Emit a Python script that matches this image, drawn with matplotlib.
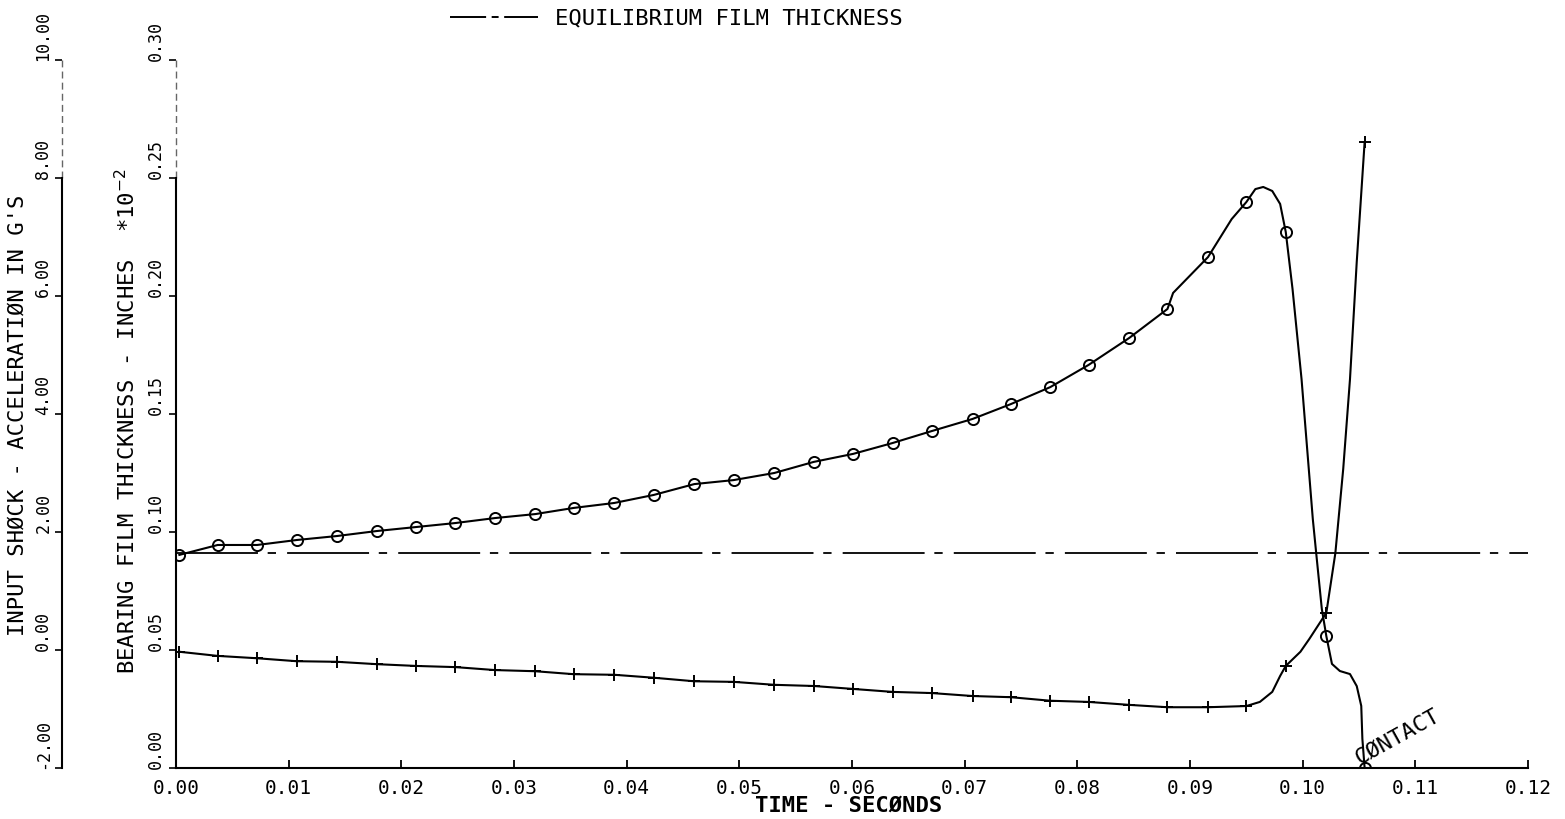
import numpy as np
import matplotlib.pyplot as plt
from matplotlib.lines import Line2D
from matplotlib.transforms import blended_transform_factory

plt.rcParams['font.family'] = ['DejaVu Sans Mono', 'DejaVu Sans']
plt.rcParams['lines.scale_dashes'] = False

# times (s) of the plotted symbols
t_mark = [0.0003, 0.0037, 0.0072, 0.0107, 0.0143, 0.0178, 0.0213, 0.0248,
          0.0283, 0.0319, 0.0353, 0.0389, 0.0424, 0.0460, 0.0495, 0.0531,
          0.0566, 0.0601, 0.0636, 0.0671, 0.0707, 0.0741, 0.0776, 0.0810,
          0.0846, 0.0880, 0.0916, 0.0950, 0.0985, 0.1021, 0.1055]

# bearing film thickness (inches x 1e-2), circles
film_mark = [0.0903, 0.0945, 0.0945, 0.0966, 0.0983, 0.1004, 0.1021, 0.1038,
             0.1059, 0.1076, 0.1102, 0.1123, 0.1157, 0.1203, 0.1220, 0.1250,
             0.1297, 0.1331, 0.1377, 0.1428, 0.1479, 0.1542, 0.1614, 0.1708,
             0.1822, 0.1945, 0.2165, 0.2398, 0.2271, 0.0559, 0.0000]

# input shock (g), crosses
accel_mark = [-0.03, -0.10, -0.14, -0.19, -0.20, -0.24, -0.27, -0.29,
              -0.34, -0.36, -0.41, -0.42, -0.47, -0.53, -0.54, -0.59,
              -0.61, -0.66, -0.71, -0.73, -0.78, -0.80, -0.86, -0.88,
              -0.93, -0.97, -0.97, -0.95, -0.27, 0.63, 8.61]

# extra points on the curves between symbols
film_extra_t = [0.0885, 0.0937, 0.0958, 0.0965, 0.0973, 0.0980, 0.0991,
                0.0999, 0.1009, 0.1012, 0.1017, 0.1026, 0.1033, 0.1042,
                0.1048, 0.1052, 0.1053]
film_extra = [0.2013, 0.2326, 0.2453, 0.2462, 0.2445, 0.2390, 0.2030,
              0.1648, 0.1055, 0.0911, 0.0674, 0.0441, 0.0411, 0.0398,
              0.0347, 0.0263, 0.0123]

accel_extra_t = [0.0962, 0.0973, 0.0980, 0.0998, 0.1006,
                 0.1029, 0.1036, 0.1042, 0.1048]
accel_extra = [-0.88, -0.71, -0.44, -0.03, 0.19,
               1.64, 3.07, 4.59, 6.58]

h_equil = 0.091

x_ticks = [0.00, 0.01, 0.02, 0.03, 0.04, 0.05, 0.06,
           0.07, 0.08, 0.09, 0.10, 0.11, 0.12]
film_ticks = [0.00, 0.05, 0.10, 0.15, 0.20, 0.25, 0.30]
accel_ticks = [-2.0, 0.0, 2.0, 4.0, 6.0, 8.0, 10.0]


def merged(t1, v1, t2, v2):
    t = np.concatenate([t1, t2])
    v = np.concatenate([v1, v2])
    order = np.argsort(t, kind='stable')
    return t[order], v[order]


film_t, film_h = merged(t_mark, film_mark, film_extra_t, film_extra)
acc_t, acc_g = merged(t_mark, accel_mark, accel_extra_t, accel_extra)

fig = plt.figure(figsize=(15.65, 8.2), dpi=100)
ax = fig.add_axes([176 / 1565, 51 / 820, 1352 / 1565, 708 / 820])
ax2 = ax.twinx()

# film thickness axis
ax.set_xlim(0, 0.12)
ax.set_ylim(0, 0.30)
for s in ['top', 'right']:
    ax.spines[s].set_visible(False)
ax.spines['bottom'].set_linewidth(1.5)
ax.spines['left'].set_linewidth(1.5)
ax.spines['left'].set_bounds(0, 0.25)
ax.plot([0, 0], [0.25, 0.30], color='0.4', lw=1.0, ls=(0, (5, 3)), clip_on=False)

ax.set_xticks(x_ticks, labels=['%.2f' % v for v in x_ticks])
ax.tick_params(axis='x', direction='in', length=6, width=1.3, pad=7, labelsize=14)
ax.set_yticks(film_ticks, labels=['%.2f' % v for v in film_ticks],
              rotation=90, va='bottom', ha='right')
ax.tick_params(axis='y', direction='out', length=5, width=1.2, pad=3, labelsize=12)

# acceleration axis, further left
ax2.set_ylim(-2, 10)
for s in ['top', 'right', 'bottom']:
    ax2.spines[s].set_visible(False)
off = -114 / 1352
ax2.spines['left'].set_visible(True)
ax2.spines['left'].set_position(('axes', off))
ax2.spines['left'].set_linewidth(1.5)
ax2.spines['left'].set_bounds(-2, 8)
ax2.yaxis.set_ticks_position('left')
ax2.set_yticks(accel_ticks, labels=['%.2f' % v for v in accel_ticks],
               rotation=90, va='bottom', ha='right')
ax2.tick_params(axis='y', direction='out', length=5, width=1.2, pad=2, labelsize=12)
tr = blended_transform_factory(ax2.transAxes, ax2.transData)
ax2.plot([off, off], [8, 10], transform=tr, color='0.4', lw=1.0,
         ls=(0, (5, 3)), clip_on=False)

# curves
ax.axhline(h_equil, color='k', lw=1.3, dashes=(59, 7, 6, 8))
ax.plot(film_t, film_h, color='k', lw=1.5)
ax.plot(t_mark, film_mark, ls='none', marker='o', ms=8, mfc='none',
        mec='k', mew=1.4)
ax2.plot(acc_t, acc_g, color='k', lw=1.5)
ax2.plot(t_mark, accel_mark, ls='none', marker='+', ms=9, mec='k', mew=1.4)

ax.text(0.1050, 0.0017, 'CØNTACT', rotation=29, rotation_mode='anchor',
        ha='left', va='baseline', fontsize=16)

# axis titles and key
fig.text(18 / 1565, 1 - 415 / 820, "INPUT SHØCK - ACCELERATIØN IN G'S",
         rotation=90, ha='center', va='center', fontsize=16)
fig.text(127 / 1565, 1 - 421 / 820,
         'BEARING FILM THICKNESS - INCHES  *10$^{-2}$',
         rotation=90, ha='center', va='center', fontsize=16)
fig.text(849 / 1565, 1 - 806 / 820, 'TIME - SECØNDS', ha='center',
         va='center', fontsize=16, fontweight='bold')

fig.add_artist(Line2D([450 / 1565, 538 / 1565], [1 - 18 / 820, 1 - 18 / 820],
                      transform=fig.transFigure, color='k', lw=1.4,
                      dashes=(26, 4, 5, 4)))
fig.text(555 / 1565, 1 - 18 / 820, 'EQUILIBRIUM FILM THICKNESS',
         ha='left', va='center', fontsize=16)

fig.savefig('out.png', dpi=100)
